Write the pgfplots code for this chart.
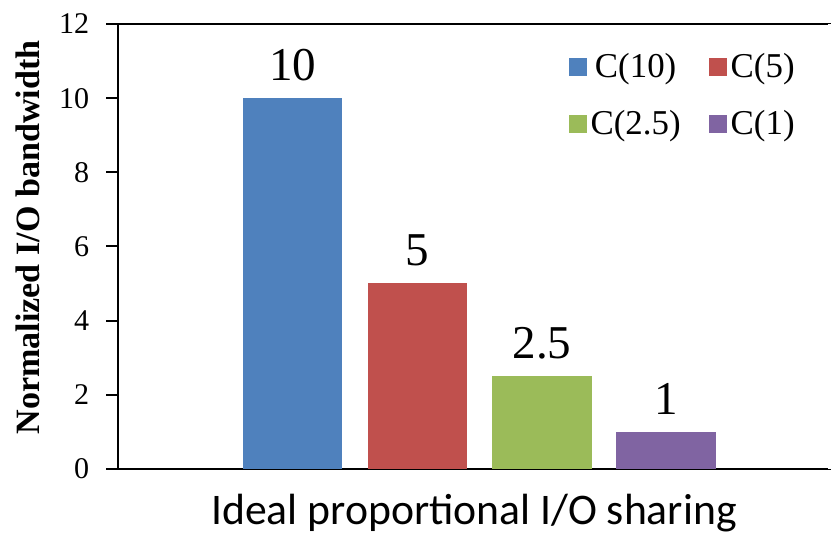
\documentclass[border=0pt]{standalone}
\usepackage{pgfplots}
\pgfplotsset{compat=1.18}
\usepackage{fontspec}
\setmainfont{Liberation Serif}
\newfontfamily\calibrifont{Carlito}

\definecolor{cblue}{HTML}{4F81BD}
\definecolor{cred}{HTML}{C0504D}
\definecolor{cgreen}{HTML}{9BBB59}
\definecolor{cpurple}{HTML}{8064A2}

\begin{document}
\begin{tikzpicture}
\begin{axis}[
  scale only axis,
  clip=false,
  width=355pt, height=222pt,
  xmin=0, xmax=710,
  ymin=0, ymax=12,
  ytick={0,2,...,12},
  xtick=\empty,
  axis line style={line width=1pt},
  ytick pos=left,
  tick align=outside,
  major tick length=0pt,
  /pgf/number format/assume math mode=true,
  yticklabel style={font=\fontsize{15}{18}\selectfont, xshift=-11pt},
  ylabel={\bfseries Normalized I/O bandwidth},
  ylabel style={at={(axis description cs:-0.127,0.52)}, anchor=center, inner sep=8pt,
                font=\fontsize{17}{20}\selectfont},
  xlabel={Ideal proportional I/O sharing},
  xlabel style={at={(axis description cs:0.5,0)}, anchor=base, yshift=-28pt, inner sep=0pt,
                font=\calibrifont\fontsize{21.8}{26}\selectfont},
  ybar, bar shift=0pt, bar width=99.5,
  nodes near coords,
  every node near coord/.append style={font=\fontsize{23.5}{28}\selectfont, yshift=5pt},
  legend columns=2,
  legend style={draw=none, fill=none, at={(axis description cs:0.624,0.953)}, anchor=north west,
                font=\fontsize{17.4}{21}\selectfont, row sep=11pt,
                /tikz/every even column/.append style={column sep=12pt}},
  legend image code/.code={\draw[#1,draw=none] (0pt,-4.5pt) rectangle (9pt,4.5pt);},
  after end axis/.code={
    % open the frame on the right-hand side
    \draw[white, line width=1.4pt] (rel axis cs:1,0) -- (rel axis cs:1,1);
    % outward tick marks on the value axis
    \foreach \t in {0,2,...,12}{\draw[black, line width=1pt] (axis cs:0,\t) -- ++(-6pt,0);}
    % white margin above the frame
    \path (rel axis cs:0,1) ++(0,12pt);
  },
]
\addplot[fill=cblue, draw=none] coordinates {(174,10)};
\addplot[fill=cred, draw=none] coordinates {(298.5,5)};
\addplot[fill=cgreen, draw=none] coordinates {(423,2.5)};
\addplot[fill=cpurple, draw=none] coordinates {(547,1)};
\legend{C(10), C(5), C(2.5), C(1)}
\end{axis}
\end{tikzpicture}
\end{document}
